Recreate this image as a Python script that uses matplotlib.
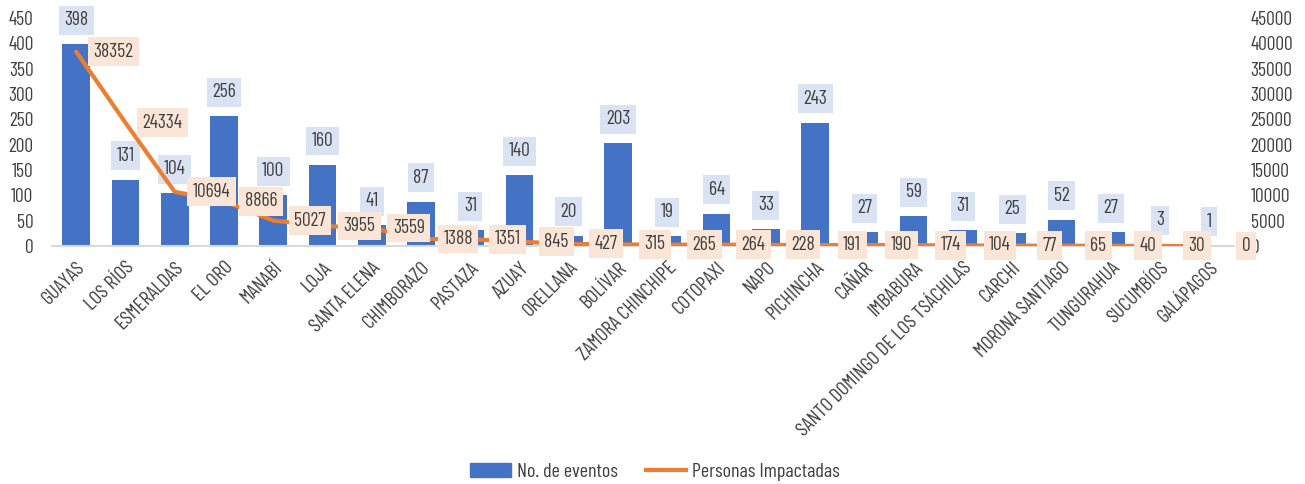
import matplotlib
matplotlib.use("Agg")
import matplotlib.pyplot as plt
from matplotlib.lines import Line2D
from matplotlib.patches import Patch

provinces = [
    "GUAYAS", "LOS RÍOS", "ESMERALDAS", "EL ORO", "MANABÍ", "LOJA",
    "SANTA ELENA", "CHIMBORAZO", "PASTAZA", "AZUAY", "ORELLANA", "BOLÍVAR",
    "ZAMORA CHINCHIPE", "COTOPAXI", "NAPO", "PICHINCHA", "CAÑAR", "IMBABURA",
    "SANTO DOMINGO DE LOS TSÁCHILAS", "CARCHI", "MORONA SANTIAGO",
    "TUNGURAHUA", "SUCUMBÍOS", "GALÁPAGOS",
]
eventos = [398, 131, 104, 256, 100, 160, 41, 87, 31, 140, 20, 203,
           19, 64, 33, 243, 27, 59, 31, 25, 52, 27, 3, 1]
personas = [38352, 24334, 10694, 8866, 5027, 3955, 3559, 1388, 1351, 845,
            427, 315, 265, 264, 228, 191, 190, 174, 104, 77, 65, 40, 30, 0]
left_ticks = list(range(0, 451, 50))
right_ticks = list(range(0, 45001, 5000))

BLUE = "#4472C4"
ORANGE = "#ED7D31"
TEXT = "#404040"

plt.rcParams["font.family"] = ["Barlow Condensed", "Roboto Condensed", "DejaVu Sans"]

fig = plt.figure(figsize=(13.05, 4.84), dpi=100)
ax = fig.add_axes([0.0395, 0.4917, 0.906, 0.4711])
ax2 = ax.twinx()

x = list(range(len(provinces)))
ax.bar(x, eventos, width=0.56, color=BLUE, zorder=2)
ax2.plot(x, personas, color=ORANGE, lw=3, solid_capstyle="round", zorder=3)

ax.set_xlim(-0.5, len(provinces) - 0.5)
ax.set_ylim(0, 450)
ax2.set_ylim(0, 45000)
ax.set_yticks(left_ticks)
ax2.set_yticks(right_ticks)
ax.set_xticks(x)
ax.set_xticklabels(provinces, rotation=45, ha="right", rotation_mode="anchor",
                   fontsize=14.5, color=TEXT)

for a in (ax, ax2):
    for s in ("top", "left", "right", "bottom"):
        a.spines[s].set_visible(False)
    a.tick_params(length=0, labelcolor=TEXT)
    a.tick_params(axis="y", labelsize=14)
ax.spines["bottom"].set_visible(True)
ax.spines["bottom"].set_color("#D9D9D9")
ax.spines["bottom"].set_linewidth(1.5)
ax.tick_params(axis="x", pad=9)
ax.tick_params(axis="y", pad=13)
ax2.tick_params(axis="y", pad=12)

# bar labels
for i, v in enumerate(eventos):
    ax.annotate(str(v), xy=(i, v), xytext=(0, 24), textcoords="offset pixels",
                ha="center", va="center", fontsize=14, color=TEXT, zorder=5,
                bbox=dict(boxstyle="square,pad=0.28", fc="#DAE3F3", ec="none"))

# line labels
for i, v in enumerate(personas):
    ax2.annotate(str(v), xy=(i, v), xytext=(37, 0), textcoords="offset pixels",
                 ha="center", va="center", fontsize=14, color=TEXT, zorder=6,
                 bbox=dict(boxstyle="square,pad=0.28", fc="#FBE5D6", ec="none"))

handles = [Patch(color=BLUE, label="No. de eventos"),
           Line2D([0], [0], color=ORANGE, lw=3, label="Personas Impactadas")]
fig.legend(handles=handles, loc="center", bbox_to_anchor=(0.502, 0.025),
           ncol=2, frameon=False, fontsize=14.5, labelcolor=TEXT,
           handlelength=2.0, handletextpad=0.3, columnspacing=1.4,
           handleheight=0.7)

fig.savefig("out.png", dpi=100)
